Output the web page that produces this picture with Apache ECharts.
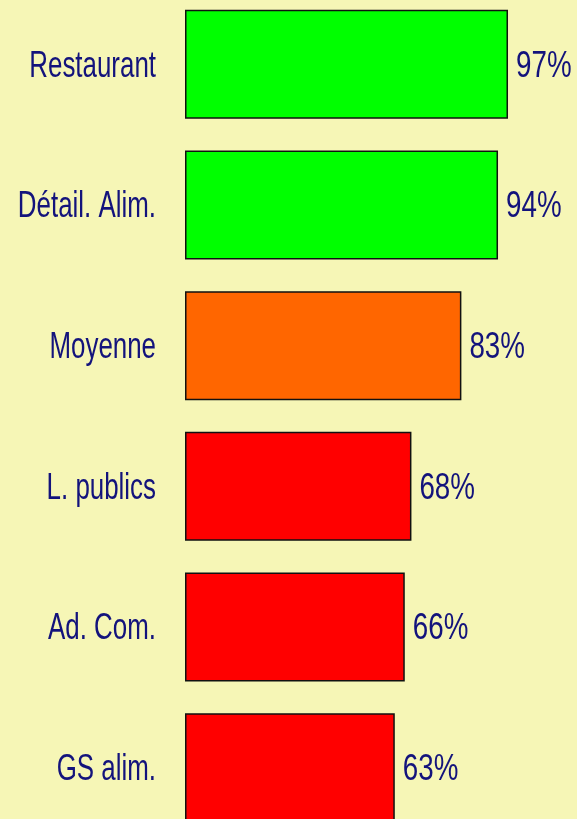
<!DOCTYPE html>
<html><head><meta charset="utf-8">
<script src="https://cdn.jsdelivr.net/npm/echarts@6/dist/echarts.min.js"></script>
<style>html,body{margin:0;padding:0;background:#F6F6B6;}#c{width:577px;height:819px;}</style>
</head><body><div id="c"></div>
<script>
const categories = ["Restaurant", "Détail. Alim.", "Moyenne", "L. publics", "Ad. Com.", "GS alim."];
const values = [97, 94, 83, 68, 66, 63];
const colors = ["#00FF00", "#00FF00", "#FF6600", "#FF0000", "#FF0000", "#FF0000"];
const FONT = "'Liberation Sans', Arial, sans-serif";
const TEXT_COLOR = '#13137c';
const chart = echarts.init(document.getElementById('c'));
chart.setOption({
  backgroundColor: '#F6F6B6',
  animation: false,
  grid: {left: 185, width: 333, top: -6, height: 844, outerBoundsMode: 'none', containLabel: false},
  xAxis: {type: 'value', min: 0, max: 100, show: false},
  yAxis: {type: 'category', data: categories, inverse: true,
    axisLine: {show: false}, axisTick: {show: false}, axisLabel: {show: false}},
  series: [{type: 'bar', barCategoryGap: '22.5%',
    data: values.map((v, i) => ({value: v, itemStyle: {color: colors[i]}})),
    itemStyle: {borderColor: '#111', borderWidth: 1.5}
  }, {
    type: 'custom',
    data: values.map((v, i) => [v, i]),
    renderItem: function (params, api) {
      const v = api.value(0), idx = api.value(1);
      const p0 = api.coord([0, idx]);
      const p1 = api.coord([v, idx]);
      return {type: 'group', children: [
        {type: 'text', x: p0[0] - 29, y: p0[1] + 2, scaleX: 0.70,
          style: {text: categories[idx], align: 'right', verticalAlign: 'middle',
            fill: TEXT_COLOR, fontSize: 37, fontFamily: FONT}},
        {type: 'text', x: p1[0] + 8, y: p1[1] + 2, scaleX: 0.75,
          style: {text: v + '%', align: 'left', verticalAlign: 'middle',
            fill: TEXT_COLOR, fontSize: 37, fontFamily: FONT}}
      ]};
    }
  }]
});
</script></body></html>
